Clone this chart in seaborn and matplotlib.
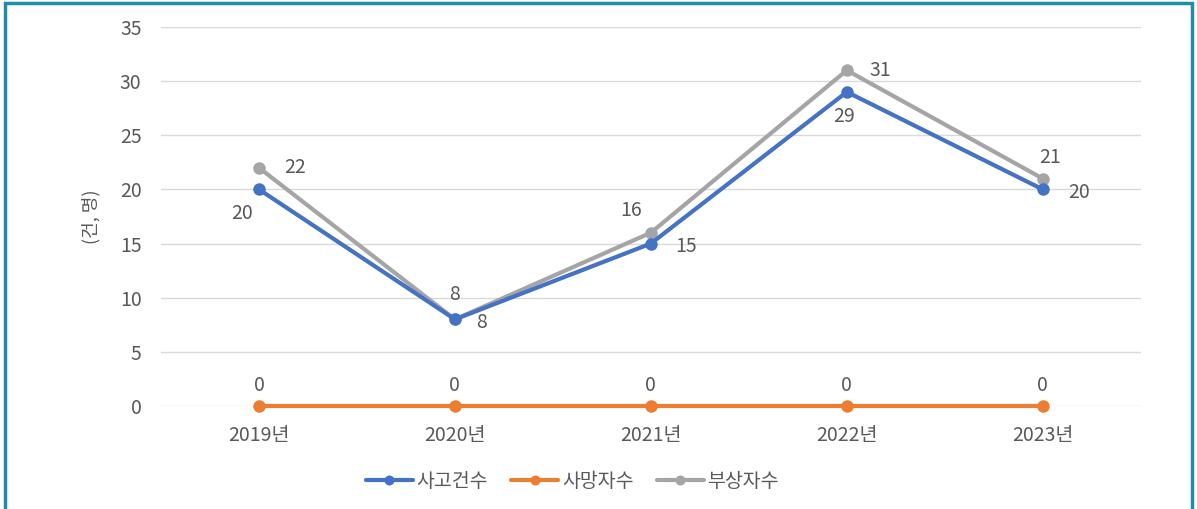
import pandas as pd
import seaborn as sns
import matplotlib.pyplot as plt
from matplotlib.patches import Rectangle

years = ['2019년', '2020년', '2021년', '2022년', '2023년']
accidents = [20, 8, 15, 29, 20]
deaths = [0, 0, 0, 0, 0]
injuries = [22, 8, 16, 31, 21]
series = ['사고건수', '사망자수', '부상자수']
colors = ['#4472C4', '#ED7D31', '#A5A5A5']

sns.set_theme(style='white')
plt.rcParams['font.family'] = ['Noto Sans CJK KR', 'DejaVu Sans']

df = pd.DataFrame({
    'year': years * 3,
    'value': accidents + deaths + injuries,
    'series': [s for s in series for _ in years],
})

fig = plt.figure(figsize=(11.97, 5.09), dpi=100)
ax = fig.add_axes([0.1345, 0.2024, 0.8185, 0.7446])

# draw order: gray under blue, orange on its own
for name, col, z in [('부상자수', colors[2], 2), ('사고건수', colors[0], 3), ('사망자수', colors[1], 3)]:
    sub = df[df['series'] == name]
    sns.lineplot(data=sub, x='year', y='value', color=col, linewidth=3,
                 marker='o', markersize=9, markeredgewidth=0, ax=ax,
                 zorder=z, label=name, sort=False)
for ln in ax.lines:
    ln.set_clip_on(False)

fs = 14
txt = dict(color='#595959', fontsize=fs, ha='center', va='center')
# data labels (offset in points)
blue_off = [(-12, -17), (19, -2), (25, -2), (-2, -18), (26, -2)]
gray_off = [(26, 0), (0, 18), (-14, 16), (24, 0), (5, 15)]
for i, y in enumerate(years):
    ax.annotate(str(accidents[i]), (i, accidents[i]), xytext=blue_off[i], textcoords='offset points', **txt)
    ax.annotate(str(injuries[i]), (i, injuries[i]), xytext=gray_off[i], textcoords='offset points', **txt)
    ax.annotate(str(deaths[i]), (i, deaths[i]), xytext=(0, 15), textcoords='offset points', **txt)

ax.set_xlim(-0.5, 4.5)
ax.set_ylim(0, 35)
ax.set_yticks(range(0, 36, 5))
ax.grid(axis='y', color='#D9D9D9', linewidth=1)
ax.grid(axis='x', visible=False)
for s in ax.spines.values():
    s.set_visible(False)
ax.tick_params(axis='both', length=0, labelcolor='#595959', labelsize=fs)
ax.tick_params(axis='y', pad=14)
ax.tick_params(axis='x', pad=14)
ax.set_xlabel('')
ax.set_ylabel('(건, 명)', color='#595959', fontsize=13, labelpad=14)

handles, labels = ax.get_legend_handles_labels()
order = [labels.index(s) for s in series]
leg = ax.legend([handles[k] for k in order], [labels[k] for k in order],
                loc='center', bbox_to_anchor=(0.42, -0.198), ncol=3, frameon=False,
                fontsize=fs, labelcolor='#595959', handlelength=2.4,
                handletextpad=0.2, columnspacing=1.2, markerscale=0.8)

# teal frame around the figure
fig.patches.append(Rectangle((0.004, -0.05), 0.992, 1.044, transform=fig.transFigure,
                             fill=False, edgecolor='#1F8FA8', linewidth=2.5))

fig.savefig('out.png', dpi=100)
